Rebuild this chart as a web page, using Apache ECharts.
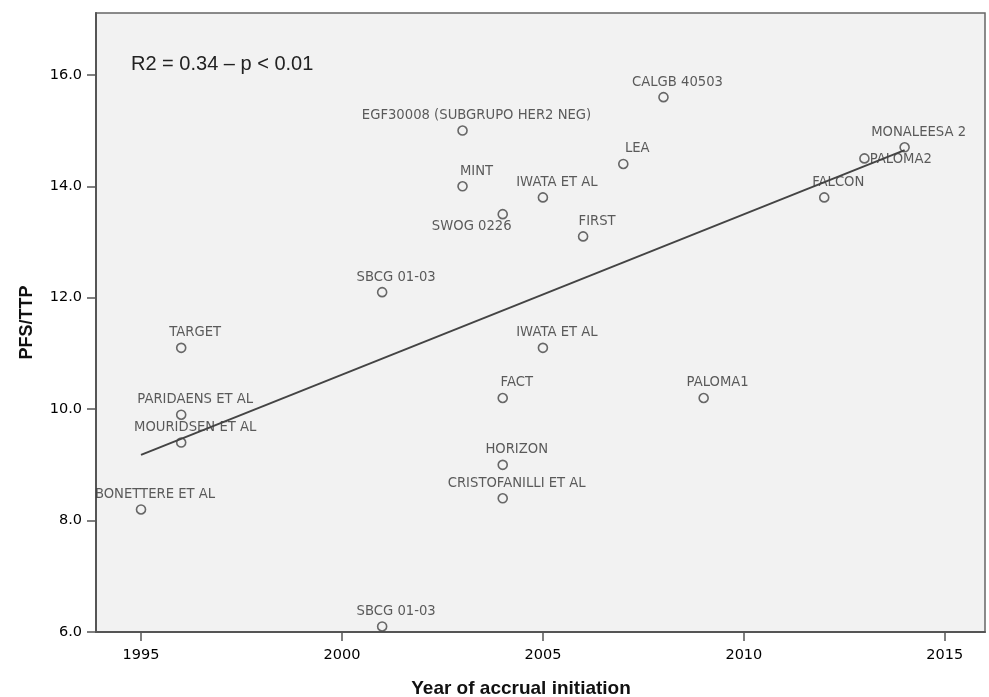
<!DOCTYPE html>
<html><head><meta charset="utf-8">
<script src="https://cdn.jsdelivr.net/npm/echarts@6/dist/echarts.min.js"></script>
<style>html,body{margin:0;padding:0;background:#fff}#c{width:989px;height:697px}</style>
</head><body><div id="c"></div>
<script>
// ---- data ----
const studies = ['BONETTERE ET AL','TARGET','PARIDAENS ET AL','MOURIDSEN ET AL','SBCG 01-03','SBCG 01-03',
  'EGF30008 (SUBGRUPO HER2 NEG)','MINT','SWOG 0226','IWATA ET AL','FIRST','LEA','CALGB 40503','IWATA ET AL',
  'FACT','HORIZON','CRISTOFANILLI ET AL','PALOMA1','FALCON','PALOMA2','MONALEESA 2'];
const years = [1995,1996,1996,1996,2001,2001,2003,2003,2004,2005,2006,2007,2008,2005,2004,2004,2004,2009,2012,2013,2014];
const pfs   = [8.2,11.1,9.9,9.4,12.1,6.1,15.0,14.0,13.5,13.8,13.1,14.4,15.6,11.1,10.2,9.0,8.4,10.2,13.8,14.5,14.7];
const trendYears  = [1995, 2014];
const trendValues = [9.18, 14.65];
const xTicks = [1995, 2000, 2005, 2010, 2015];
const yTicks = [6, 8, 10, 12, 14, 16];
const annotation = 'R2 = 0.34 \u2013 p < 0.01';

// ---- label placement (style only) ----
const defaultLabel = { position: 'inside', offset: [14, -15] };
const labelOverride = {
  8:  { position: 'inside', offset: [-31, 12] },          // SWOG 0226
  19: { position: 'right', distance: 0, offset: [0, 1] }  // PALOMA2
};

const points = years.map((y, i) => ({
  name: studies[i],
  value: [y, pfs[i]],
  label: Object.assign({}, labelOverride[i] || defaultLabel)
}));

const chart = echarts.init(document.getElementById('c'), null, { renderer: 'canvas' });
chart.setOption({
  animation: false,
  backgroundColor: '#ffffff',
  title: {
    text: annotation, left: 131, top: 54, padding: 0,
    textStyle: { fontFamily: 'Liberation Sans', fontSize: 20, fontWeight: 'normal', color: '#222' }
  },
  grid: {
    left: 96, right: 4, top: 13, bottom: 65, show: true, containLabel: false, outerBoundsMode: 'none',
    backgroundColor: '#f2f2f2', borderColor: '#666', borderWidth: 1.5
  },
  xAxis: {
    type: 'value', min: 1993.88, max: 2016,
    name: 'Year of accrual initiation', nameLocation: 'middle', nameGap: 47,
    nameTextStyle: { fontFamily: 'Liberation Sans', fontSize: 19, fontWeight: 'bold', color: '#111', padding: [0, 39, 0, 0] },
    axisLine: { show: true, onZero: false, lineStyle: { color: '#555', width: 2 } },
    axisTick: { show: true, length: 9, customValues: xTicks, lineStyle: { color: '#555', width: 1.5 } },
    axisLabel: { customValues: xTicks, margin: 16, fontFamily: 'DejaVu Sans', fontSize: 14.5, color: '#000',
      formatter: v => String(v) },
    splitLine: { show: false }
  },
  yAxis: {
    type: 'value', min: 6, max: 17.11,
    name: 'PFS/TTP', nameLocation: 'middle', nameGap: 60,
    nameTextStyle: { fontFamily: 'Liberation Sans', fontSize: 18, fontWeight: 'bold', color: '#111' },
    axisLine: { show: true, onZero: false, lineStyle: { color: '#555', width: 2 } },
    axisTick: { show: true, length: 9, customValues: yTicks, lineStyle: { color: '#555', width: 1.5 } },
    axisLabel: { customValues: yTicks, margin: 14, fontFamily: 'DejaVu Sans', fontSize: 14.5, color: '#000',
      formatter: v => v.toFixed(1) },
    splitLine: { show: false }
  },
  series: [
    {
      type: 'line', data: trendYears.map((x, i) => [x, trendValues[i]]),
      symbol: 'none', silent: true, z: 3,
      lineStyle: { color: '#444', width: 2 }
    },
    {
      type: 'scatter', data: points, symbol: 'circle', symbolSize: 9, z: 2,
      itemStyle: { color: 'rgba(0,0,0,0)', borderColor: '#444', borderWidth: 1.6 },
      label: {
        show: true, formatter: p => p.name,
        fontFamily: 'DejaVu Sans', fontSize: 13.2, color: '#333'
      }
    }
  ]
});
</script></body></html>
